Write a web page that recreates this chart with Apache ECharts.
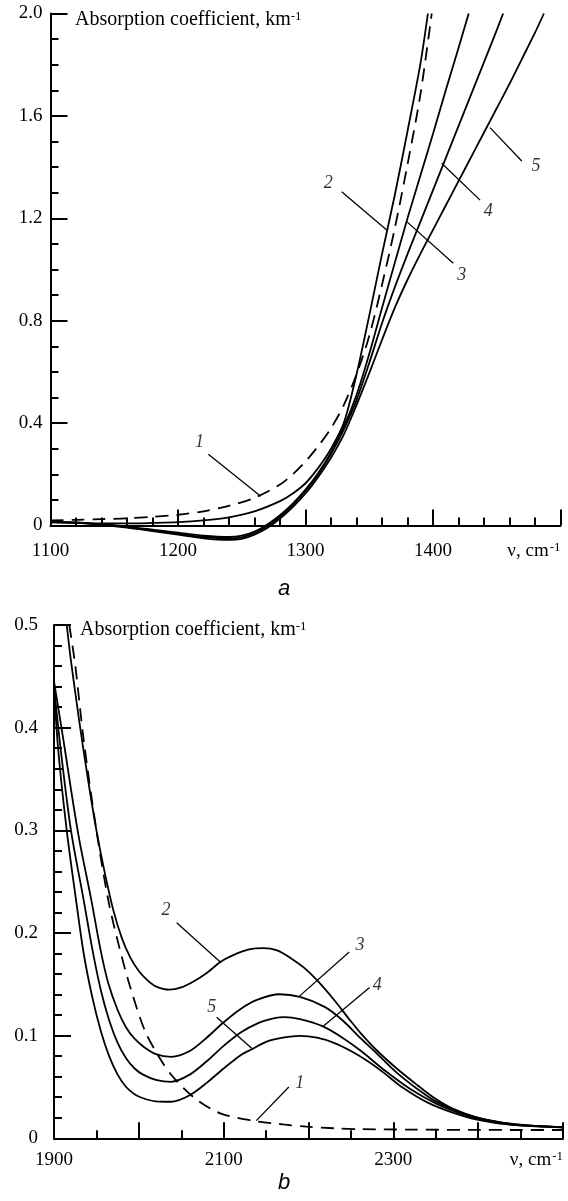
<!DOCTYPE html>
<html><head><meta charset="utf-8">
<script src="https://cdn.jsdelivr.net/npm/echarts/dist/echarts.min.js"></script>
<style>html,body{margin:0;padding:0;background:#fff}#c{width:568px;height:1201px}</style>
</head><body><div id="c"></div>
<script>
// ---------- Panel a (1100-1500 cm-1) ----------
const aCurve1 = [[1100,0.02],[1120,0.022],[1140,0.025],[1160,0.028],[1180,0.034],[1200,0.042],[1220,0.055],[1240,0.077],[1260,0.108],[1280,0.16],[1290,0.2],[1300,0.25],[1310,0.31],[1320,0.38],[1330,0.47],[1340,0.59],[1350,0.74],[1360,0.94],[1370,1.16],[1380,1.41],[1390,1.68],[1399,2.0]];
const aCurve2 = [[1100,0.012],[1120,0.01],[1140,0.008],[1160,0.008],[1180,0.01],[1200,0.013],[1220,0.02],[1240,0.032],[1260,0.055],[1280,0.095],[1290,0.125],[1300,0.165],[1310,0.225],[1320,0.30],[1330,0.40],[1340,0.59],[1350,0.82],[1360,1.06],[1370,1.29],[1380,1.54],[1390,1.80],[1396,2.0]];
const aCurve3 = [[1100,0.015],[1120,0.012],[1140,0.005],[1160,-0.004],[1180,-0.016],[1200,-0.028],[1220,-0.04],[1240,-0.045],[1250,-0.04],[1260,-0.024],[1270,0.004],[1280,0.04],[1290,0.085],[1300,0.14],[1310,0.205],[1320,0.285],[1330,0.385],[1340,0.51],[1350,0.67],[1360,0.85],[1370,1.025],[1380,1.2],[1390,1.365],[1400,1.53],[1410,1.70],[1420,1.865],[1428,2.0]];
const aCurve4 = [[1100,0.014],[1120,0.011],[1140,0.004],[1160,-0.006],[1180,-0.019],[1200,-0.032],[1220,-0.045],[1240,-0.05],[1250,-0.046],[1260,-0.03],[1270,-0.003],[1280,0.034],[1290,0.08],[1300,0.135],[1310,0.2],[1320,0.28],[1330,0.375],[1340,0.49],[1350,0.635],[1360,0.79],[1370,0.93],[1380,1.06],[1390,1.185],[1400,1.31],[1410,1.435],[1420,1.56],[1430,1.685],[1440,1.81],[1450,1.935],[1455,2.0]];
const aCurve5 = [[1100,0.013],[1120,0.01],[1140,0.003],[1160,-0.008],[1180,-0.022],[1200,-0.036],[1220,-0.05],[1240,-0.056],[1250,-0.052],[1260,-0.036],[1270,-0.01],[1280,0.027],[1290,0.072],[1300,0.125],[1310,0.19],[1320,0.265],[1330,0.355],[1340,0.47],[1350,0.595],[1360,0.725],[1370,0.85],[1380,0.96],[1390,1.06],[1400,1.155],[1410,1.25],[1420,1.345],[1430,1.44],[1440,1.535],[1450,1.63],[1460,1.725],[1470,1.825],[1480,1.925],[1487,2.0]];
const aXTicks = [1100,1200,1300,1400];
const aYTicks = ['0','0.4','0.8','1.2','1.6','2.0'];
// curve-number annotations: [text, labelX, labelY, leaderFromX, leaderFromY, leaderToX, leaderToY]
const aNotes = [
  ['1',1216.8,0.324, 1223.8,0.278, 1264.9,0.114],
  ['2',1317.9,1.337, 1328.4,1.304, 1363.7,1.154],
  ['3',1422.5,0.979, 1379.4,1.187, 1415.9,1.024],
  ['4',1443.4,1.226, 1406.8,1.415, 1436.9,1.271],
  ['5',1480.8,1.402, 1444.7,1.554, 1469.6,1.424]
];

// ---------- Panel b (1900-2500 cm-1) ----------
const bCurve1 = [[1918,0.5],[1925,0.461],[1935,0.388],[1950,0.3],[1964,0.232],[1977,0.186],[1990,0.147],[2007,0.105],[2024,0.079],[2040,0.06],[2066,0.039],[2096,0.0243],[2134,0.0172],[2170,0.0135],[2198,0.0113],[2230,0.0098],[2262,0.0089],[2320,0.0085],[2390,0.0082],[2450,0.0081],[2500,0.0081]];
const bCurve2 = [[1915,0.5],[1920,0.465],[1930,0.405],[1940,0.35],[1950,0.30],[1960,0.258],[1970,0.222],[1980,0.195],[1990,0.176],[2000,0.163],[2010,0.154],[2020,0.148],[2036,0.1448],[2050,0.147],[2065,0.153],[2080,0.161],[2096,0.1717],[2110,0.178],[2130,0.184],[2147,0.1853],[2163,0.183],[2180,0.175],[2195,0.166],[2210,0.154],[2230,0.135],[2249,0.115],[2262,0.102],[2280,0.086],[2304,0.068],[2325,0.054],[2347,0.04],[2370,0.029],[2400,0.02],[2440,0.014],[2470,0.012],[2500,0.0107]];
const bCurve3 = [[1900,0.445],[1913,0.378],[1920,0.34],[1930,0.29],[1944,0.232],[1955,0.183],[1964,0.151],[1975,0.125],[1985,0.108],[1995,0.097],[2006,0.089],[2020,0.082],[2038,0.0794],[2060,0.085],[2080,0.098],[2100,0.113],[2120,0.126],[2140,0.135],[2166,0.1403],[2190,0.1377],[2219,0.128],[2240,0.115],[2262,0.097],[2280,0.083],[2304,0.064],[2330,0.047],[2350,0.036],[2380,0.025],[2410,0.018],[2450,0.013],[2500,0.0107]];
const bCurve4 = [[1900,0.44],[1908,0.378],[1920,0.3],[1935,0.232],[1945,0.185],[1955,0.145],[1965,0.115],[1975,0.093],[1985,0.078],[1995,0.068],[2005,0.062],[2020,0.057],[2038,0.055],[2060,0.062],[2080,0.075],[2100,0.09],[2120,0.103],[2140,0.112],[2160,0.117],[2172,0.118],[2190,0.116],[2217,0.109],[2240,0.098],[2262,0.085],[2290,0.066],[2320,0.048],[2350,0.034],[2380,0.024],[2410,0.017],[2450,0.0125],[2500,0.0107]];
const bCurve5 = [[1900,0.44],[1905,0.378],[1915,0.3],[1926,0.232],[1935,0.18],[1945,0.138],[1955,0.105],[1965,0.08],[1975,0.062],[1985,0.05],[1995,0.043],[2005,0.039],[2020,0.036],[2038,0.0356],[2060,0.042],[2080,0.054],[2100,0.068],[2120,0.081],[2134,0.087],[2150,0.094],[2170,0.098],[2190,0.0998],[2210,0.098],[2230,0.093],[2250,0.085],[2270,0.075],[2290,0.063],[2310,0.05],[2340,0.035],[2370,0.025],[2400,0.018],[2440,0.013],[2500,0.0107]];
const bXTicks = [1900,2100,2300];
const bYTicks = ['0','0.1','0.2','0.3','0.4','0.5'];
const bNotes = [
  ['1',2189.6,0.054, 2138.5,0.0172, 2176.8,0.050],
  ['2',2032.0,0.222, 2044.6,0.21, 2097.0,0.171],
  ['3',2260.7,0.188, 2189.4,0.1385, 2248.0,0.1815],
  ['4',2281.0,0.149, 2217.0,0.109, 2272.0,0.147],
  ['5',2085.9,0.128, 2091.7,0.118, 2134.0,0.087]
];
const axisUnit = 'ν, cm';
const yTitle = 'Absorption coefficient, km';
const supText = '-1';

const serif = 'Liberation Serif';
const chart = echarts.init(document.getElementById('c'), null, {renderer:'canvas'});

function xAxis(gi, min, max, minor, shown, labelMargin){
  return {
    type:'value', gridIndex:gi, min:min, max:max, interval:100,
    axisLine:{onZero:false, lineStyle:{color:'#000', width:2}},
    axisTick:{inside:true, length:16, lineStyle:{color:'#000', width:2}},
    minorTick:{show:true, splitNumber:minor, length:8, lineStyle:{color:'#000', width:2}},
    splitLine:{show:false}, minorSplitLine:{show:false},
    axisLabel:{
      margin:labelMargin, color:'#000', fontFamily:serif, fontSize:19,
      showMinLabel:true, showMaxLabel:true, hideOverlap:false,
      alignMaxLabel:'right',
      formatter:function(v){
        if (v === max) return '{u|' + axisUnit + '}{s|' + supText + '}';
        return shown.indexOf(v) >= 0 ? String(v) : '';
      },
      rich:{u:{fontFamily:serif, fontSize:19, color:'#000'}, s:{fontFamily:serif, fontSize:13, color:'#000', verticalAlign:'top', padding:[0,0,0,1]}}
    }
  };
}
function yAxis(gi, max, interval, minor, labels, margin){
  return {
    type:'value', gridIndex:gi, min:0, max:max, interval:interval,
    axisLine:{show:true, lineStyle:{color:'#000', width:2}},
    axisTick:{inside:true, length:17, lineStyle:{color:'#000', width:2}},
    minorTick:{show:true, splitNumber:minor, length:8, lineStyle:{color:'#000', width:2}},
    splitLine:{show:false}, minorSplitLine:{show:false},
    axisLabel:{margin:margin, color:'#000', fontFamily:serif, fontSize:19,
      formatter:function(v){ return labels[Math.round(v/interval)]; }}
  };
}
function curve(gi, data, dashed){
  return {type:'line', xAxisIndex:gi, yAxisIndex:gi, data:data, showSymbol:false, symbol:'none',
    smooth:0.3, clip:false, silent:true, animation:false,
    lineStyle:{color:'#000', width:1.8, type: dashed ? [13,8] : 'solid'}};
}
function notes(gi, arr){
  return {type:'scatter', xAxisIndex:gi, yAxisIndex:gi, symbolSize:0, silent:true, animation:false,
    data: arr.map(n => ({name:n[0], value:[n[1], n[2]]})),
    label:{show:true, position:'inside', formatter:'{b}', color:'#000', fontFamily:serif, fontStyle:'italic', fontSize:18},
    markLine:{silent:true, animation:false, symbol:['none','none'], label:{show:false},
      lineStyle:{color:'#000', width:1.3, type:'solid'},
      data: arr.map(n => [{coord:[n[3], n[4]]}, {coord:[n[5], n[6]]}])}
  };
}
function title(x, y){
  return {type:'text', left:x, top:y, silent:true, style:{
    text:'{t|' + yTitle + '}{s|' + supText + '}',
    rich:{t:{fontFamily:serif, fontSize:20, fill:'#000'}, s:{fontFamily:serif, fontSize:13, fill:'#000', verticalAlign:'top'}}
  }};
}

chart.setOption({
  backgroundColor:'#fff',
  animation:false,
  grid:[
    {left:50.5, right:7.5, top:13.5, height:512},
    {left:54, right:5, top:625, height:513.3}
  ],
  xAxis:[ xAxis(0, 1100, 1500, 5, aXTicks, 16), xAxis(1, 1900, 2500, 2, bXTicks, 12) ],
  yAxis:[ yAxis(0, 2.0, 0.4, 4, aYTicks, 8), yAxis(1, 0.5, 0.1, 5, bYTicks, 16) ],
  series:[
    curve(0, aCurve1, true), curve(0, aCurve2), curve(0, aCurve3), curve(0, aCurve4), curve(0, aCurve5),
    notes(0, aNotes),
    curve(1, bCurve1, true), curve(1, bCurve2), curve(1, bCurve3), curve(1, bCurve4), curve(1, bCurve5),
    notes(1, bNotes)
  ],
  graphic:[
    title(75, 10),
    title(80, 620),
    {type:'text', left:278, top:578, silent:true, style:{text:'a', fontFamily:'Liberation Sans', fontStyle:'italic', fontSize:22, fill:'#000'}},
    {type:'text', left:278, top:1172, silent:true, style:{text:'b', fontFamily:'Liberation Sans', fontStyle:'italic', fontSize:22, fill:'#000'}}
  ]
});
</script></body></html>
